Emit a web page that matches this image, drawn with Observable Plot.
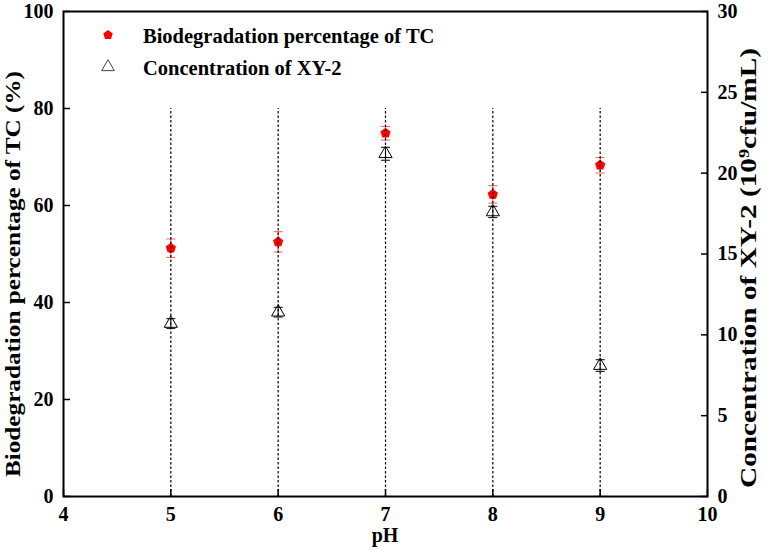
<!DOCTYPE html>
<html>
<head>
<meta charset="utf-8">
<script src="https://cdn.jsdelivr.net/npm/d3@7"></script>
<script src="https://cdn.jsdelivr.net/npm/@observablehq/plot@0.6"></script>
<style>
  html, body { margin: 0; padding: 0; background: #fff; }
  #chart { width: 772px; height: 553px; }
</style>
</head>
<body>
<div id="chart"></div>
<script>
// ---- data ----
const pH = [5, 6, 7, 8, 9];
const tcPercent = [51.2, 52.5, 74.9, 62.3, 68.3];       // left axis, %
const tcError = [1.9, 2.1, 1.4, 1.8, 1.6];
const xyConc = [10.7, 11.4, 21.2, 17.6, 8.1];          // right axis, 10^9 cfu/mL
const xyError = [0.3, 0.3, 0.4, 0.35, 0.36];
const xTicks = [4, 5, 6, 7, 8, 9, 10];
const leftTicks = [0, 20, 40, 60, 80, 100];
const rightTicks = [0, 5, 10, 15, 20, 25, 30];
const guideTop = 80;
const seriesNames = ["Biodegradation percentage of TC", "Concentration of XY-2"];

// right axis (0-30) mapped onto left scale (0-100)
const k = 100 / 30;

const tcRows = pH.map((x, i) => ({ x, y: tcPercent[i], lo: tcPercent[i] - tcError[i], hi: tcPercent[i] + tcError[i] }));
const xyRows = pH.map((x, i) => ({ x, y: xyConc[i] * k, lo: (xyConc[i] - xyError[i]) * k, hi: (xyConc[i] + xyError[i]) * k }));

// custom symbols
const pentagon = {
  draw(ctx, size) {
    const r = Math.sqrt(size / Math.PI);
    for (let i = 0; i < 5; i++) {
      const a = -Math.PI / 2 + i * 2 * Math.PI / 5;
      const px = r * Math.cos(a), py = r * Math.sin(a);
      if (i === 0) ctx.moveTo(px, py); else ctx.lineTo(px, py);
    }
    ctx.closePath();
  }
};
const capLine = {
  draw(ctx, size) {
    const w = Math.sqrt(size / Math.PI);
    ctx.moveTo(-w, 0);
    ctx.lineTo(w, 0);
  }
};

const FONT = "'Liberation Serif', 'Times New Roman', Times, serif";
const RED = "#ff0000";
const ERR_RED = "#ff5a5a";

const chart = Plot.plot({
  width: 772,
  height: 553,
  marginLeft: 63,
  marginRight: 65,
  marginTop: 11,
  marginBottom: 57,
  style: { fontFamily: FONT, fontWeight: "bold", fontSize: "20px", background: "#fff", overflow: "visible" },
  x: { domain: [4, 10] },
  y: { domain: [0, 100] },
  marks: [
    // axis labels
    Plot.axisX(xTicks, { tickSize: 0, tickPadding: 10, fontSize: 20, label: null, tickFormat: d => d }),
    Plot.axisX(xTicks, { tickSize: 7, dy: -7, text: null, label: null, strokeWidth: 1.5 }),
    Plot.axisY(leftTicks, { anchor: "left", tickSize: 0, tickPadding: 10, fontSize: 20, label: null, tickFormat: d => d }),
    Plot.axisY(leftTicks, { anchor: "left", tickSize: 7, dx: 7, text: null, label: null, strokeWidth: 1.5 }),
    Plot.axisY(rightTicks.map(v => v * k), { anchor: "right", tickSize: 0, tickPadding: 10, fontSize: 20, label: null, tickFormat: d => Math.round(d / k) }),
    Plot.axisY(rightTicks.map(v => v * k), { anchor: "right", tickSize: 7, dx: -7, text: null, label: null, strokeWidth: 1.5 }),
    // error bars
    Plot.ruleX(tcRows, { x: "x", y1: "lo", y2: "hi", stroke: ERR_RED, strokeWidth: 1 }),
    Plot.dot(tcRows, { x: "x", y: "lo", symbol: capLine, r: 4.5, stroke: ERR_RED, fill: "none", strokeWidth: 1 }),
    Plot.dot(tcRows, { x: "x", y: "hi", symbol: capLine, r: 4.5, stroke: ERR_RED, fill: "none", strokeWidth: 1 }),
    Plot.ruleX(xyRows, { x: "x", y1: "lo", y2: "hi", stroke: "#000", strokeWidth: 1 }),
    Plot.dot(xyRows, { x: "x", y: "lo", symbol: capLine, r: 4.5, stroke: "#000", fill: "none", strokeWidth: 1 }),
    Plot.dot(xyRows, { x: "x", y: "hi", symbol: capLine, r: 4.5, stroke: "#000", fill: "none", strokeWidth: 1 }),
    // markers
    Plot.dot(tcRows, { x: "x", y: "y", symbol: pentagon, r: 5.4, fill: RED, stroke: "none" }),
    Plot.dot(xyRows, { x: "x", y: "y", symbol: "triangle", r: 4.9, fill: "none", stroke: "#000", strokeWidth: 1 }),
    // dashed guides
    Plot.ruleX(pH, { x: d => d, y1: 0, y2: guideTop, stroke: "#000", strokeWidth: 1.2, strokeDasharray: "2.5,2" }),
    Plot.frame({ stroke: "#000", strokeWidth: 2 })
  ]
});

document.getElementById("chart").appendChild(chart);

// titles and legend added into the same svg
const svg = d3.select(chart);
const ml = 63, mr = 65, W = 772;

svg.append("text")
  .attr("transform", `translate(19.5,274) rotate(-90)`)
  .attr("text-anchor", "middle")
  .attr("font-family", FONT).attr("font-weight", "bold").attr("font-size", 21)
  .attr("textLength", 406).attr("lengthAdjust", "spacingAndGlyphs")
  .attr("fill", "#000")
  .text("Biodegradation percentage of TC (%)");

const rt = svg.append("text")
  .attr("transform", `translate(756,268) rotate(-90)`)
  .attr("text-anchor", "middle")
  .attr("font-family", FONT).attr("font-weight", "bold").attr("font-size", 22.5)
  .attr("textLength", 440).attr("lengthAdjust", "spacingAndGlyphs")
  .attr("fill", "#000");
rt.append("tspan").text("Concentration of XY-2 (10");
rt.append("tspan").attr("baseline-shift", "super").attr("font-size", 14).text("9");
rt.append("tspan").text("cfu/mL)");

svg.append("text")
  .attr("x", ml + (W - ml - mr) / 2).attr("y", 542)
  .attr("text-anchor", "middle")
  .attr("font-family", FONT).attr("font-weight", "bold").attr("font-size", 20)
  .attr("fill", "#000")
  .text("pH");

// legend
const lg = svg.append("g").attr("font-family", FONT).attr("font-weight", "bold").attr("font-size", 20.5).attr("text-anchor", "start");
const pp = d3.path(); pentagon.draw(pp, Math.PI * 5 * 5);
lg.append("path").attr("transform", "translate(108,35)").attr("d", pp.toString()).attr("fill", RED);
lg.append("text").attr("x", 143).attr("y", 43).attr("text-anchor", "start").attr("fill", "#000").text(seriesNames[0]);
const tp = d3.symbol(d3.symbolTriangle, Math.PI * 4.7 * 4.7)();
lg.append("path").attr("transform", "translate(108,67)").attr("d", tp).attr("fill", "none").attr("stroke", "#444").attr("stroke-width", 1);
lg.append("text").attr("x", 143).attr("y", 75).attr("text-anchor", "start").attr("fill", "#000").text(seriesNames[1]);
</script>
</body>
</html>
